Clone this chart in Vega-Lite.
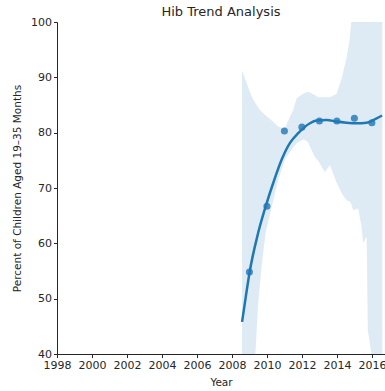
{
  "$schema": "https://vega.github.io/schema/vega-lite/v6.json",
  "width": 328,
  "height": 332,
  "autosize": {"type": "none"},
  "padding": {"left": 57, "top": 22, "right": 0, "bottom": 37},
  "background": "white",
  "config": {
    "view": {"stroke": null},
    "font": "DejaVu Sans",
    "axis": {
      "grid": false,
      "domainColor": "#262626",
      "tickColor": "#262626",
      "labelColor": "#262626",
      "titleColor": "#262626",
      "tickSize": 3.5,
      "labelFont": "DejaVu Sans",
      "titleFont": "DejaVu Sans",
      "labelFontSize": 11,
      "titleFontSize": 10.5,
      "titleFontWeight": "normal",
      "labelPadding": 2,
      "labelOverlap": false
    },
    "title": {"font": "DejaVu Sans", "fontSize": 13, "fontWeight": "normal", "color": "#262626", "offset": -3}
  },
  "title": {"text": "Hib Trend Analysis", "anchor": "middle"},
  "datasets": {
    "band": [
      {"year": 2008.58, "lo": 30, "hi": 91.3},
      {"year": 2008.8, "lo": 30, "hi": 89.3},
      {"year": 2009.13, "lo": 30, "hi": 86.5},
      {"year": 2009.33, "lo": 39.5, "hi": 85.4},
      {"year": 2009.5, "lo": 49.2, "hi": 84.5},
      {"year": 2009.7, "lo": 56.0, "hi": 83.8},
      {"year": 2009.93, "lo": 62.0, "hi": 83.1},
      {"year": 2010.27, "lo": 66.5, "hi": 82.2},
      {"year": 2010.65, "lo": 71.5, "hi": 81.1},
      {"year": 2010.91, "lo": 74.0, "hi": 80.8},
      {"year": 2011.05, "lo": 75.3, "hi": 81.0},
      {"year": 2011.5, "lo": 77.3, "hi": 84.1},
      {"year": 2011.7, "lo": 78.1, "hi": 86.2},
      {"year": 2012.1, "lo": 78.8, "hi": 87.1},
      {"year": 2012.34, "lo": 78.3, "hi": 87.4},
      {"year": 2012.74, "lo": 75.6, "hi": 86.8},
      {"year": 2012.91, "lo": 75.0, "hi": 86.4},
      {"year": 2013.31, "lo": 72.9, "hi": 86.4},
      {"year": 2013.6, "lo": 74.1, "hi": 86.4},
      {"year": 2013.98, "lo": 71.0, "hi": 87.0},
      {"year": 2014.29, "lo": 69.0, "hi": 90.0},
      {"year": 2014.55, "lo": 67.8, "hi": 93.5},
      {"year": 2014.74, "lo": 67.5, "hi": 97.0},
      {"year": 2014.83, "lo": 67.0, "hi": 100.5},
      {"year": 2014.93, "lo": 66.0, "hi": 110},
      {"year": 2015.22, "lo": 66.3, "hi": 110},
      {"year": 2015.41, "lo": 63.0, "hi": 110},
      {"year": 2015.5, "lo": 60.0, "hi": 110},
      {"year": 2015.7, "lo": 61.2, "hi": 110},
      {"year": 2015.77, "lo": 44.3, "hi": 110},
      {"year": 2016.0, "lo": 39.5, "hi": 110},
      {"year": 2016.1, "lo": 30, "hi": 110},
      {"year": 2016.6, "lo": 30, "hi": 110}
    ],
    "fit": [
      {"year": 2008.58, "value": 45.8},
      {"year": 2008.8, "value": 50.5},
      {"year": 2009.0, "value": 54.6},
      {"year": 2009.5, "value": 61.9},
      {"year": 2010.0, "value": 67.4},
      {"year": 2010.36, "value": 70.9},
      {"year": 2010.84, "value": 75.1},
      {"year": 2011.31, "value": 78.1},
      {"year": 2011.79, "value": 79.9},
      {"year": 2012.46, "value": 81.7},
      {"year": 2012.84, "value": 82.2},
      {"year": 2013.41, "value": 82.3},
      {"year": 2013.98, "value": 82.0},
      {"year": 2014.55, "value": 81.8},
      {"year": 2015.13, "value": 81.7},
      {"year": 2015.7, "value": 81.8},
      {"year": 2016.27, "value": 82.6},
      {"year": 2016.58, "value": 83.1}
    ],
    "obs": [
      {"year": 2009, "value": 54.8},
      {"year": 2010, "value": 66.7},
      {"year": 2011, "value": 80.3},
      {"year": 2012, "value": 81.0},
      {"year": 2013, "value": 82.1},
      {"year": 2014, "value": 82.1},
      {"year": 2015, "value": 82.6},
      {"year": 2016, "value": 81.8}
    ]
  },
  "encoding": {
    "x": {
      "field": "year", "type": "quantitative",
      "scale": {"domain": [1998, 2016.75], "nice": false, "zero": false},
      "axis": {"title": "Year", "tickCount": 10, "format": "d", "titlePadding": 7, "labelOverlap": false, "labelBound": false, "labelFlush": false}
    }
  },
  "layer": [
    {
      "data": {"name": "band"},
      "mark": {"type": "area", "color": "#1f77b4", "opacity": 0.15, "clip": true},
      "encoding": {
        "y": {
          "field": "lo", "type": "quantitative",
          "scale": {"domain": [40, 100], "nice": false, "zero": false},
          "axis": {"title": "Percent of Children Aged 19–35 Months", "values": [40, 50, 60, 70, 80, 90, 100], "titlePadding": 8, "labelOverlap": false, "labelFlush": false}
        },
        "y2": {"field": "hi"}
      }
    },
    {
      "data": {"name": "fit"},
      "mark": {"type": "line", "color": "#1f77b4", "strokeWidth": 2.5, "clip": true, "interpolate": "monotone"},
      "encoding": {
        "y": {"field": "value", "type": "quantitative"}
      }
    },
    {
      "data": {"name": "obs"},
      "mark": {"type": "circle", "color": "#1f77b4", "opacity": 0.8, "size": 50},
      "encoding": {
        "y": {"field": "value", "type": "quantitative"}
      }
    }
  ]
}
